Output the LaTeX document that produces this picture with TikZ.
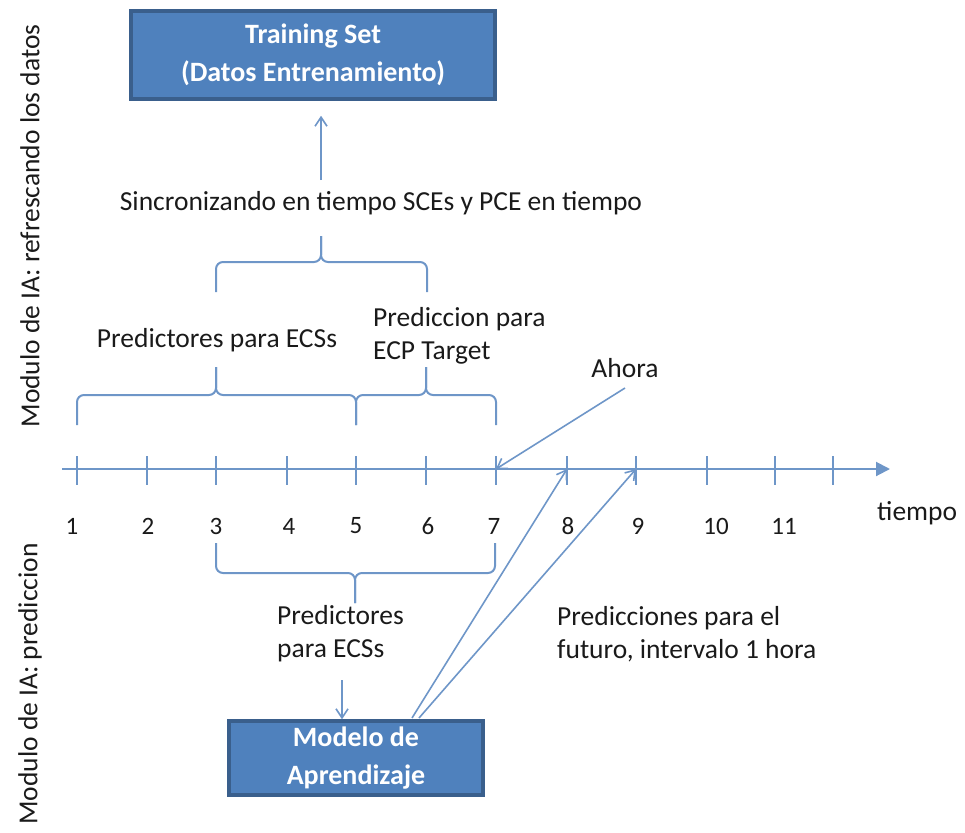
\documentclass[tikz,border=0pt]{standalone}
\usepackage{fontspec}
\setmainfont{Carlito}
\usetikzlibrary{arrows.meta}

\definecolor{lineblue}{HTML}{6E96C8}
\definecolor{boxfill}{HTML}{4F81BD}
\definecolor{boxedge}{HTML}{3A5F8C}
\definecolor{txt}{HTML}{1A1A1A}

\tikzset{
  conn/.style={draw=lineblue, line width=1.6pt},
  bracepath/.style={draw=lineblue, line width=2pt, rounded corners=7pt},
  openhead/.style={conn, -{Straight Barb[length=9pt,width=12pt]}},
  bluebox/.style={draw=boxedge, fill=boxfill, line width=3.5pt, text=white,
    font=\fontsize{28}{38}\selectfont\bfseries, align=center, inner sep=0pt},
  lbl/.style={text=txt, font=\fontsize{27.5}{33}\selectfont, align=left, inner sep=0pt},
  num/.style={text=txt, font=\fontsize{25}{30}\selectfont, inner sep=0pt},
  tickmark/.style={draw=lineblue, line width=2.2pt},
}

% curly brace drawn as two rounded halves meeting at a tip
\newcommand\curlybrace[6]{%
  \path[bracepath] (#1,#4) -- (#1,#5) -- (#3,#5) -- (#3,#6);
  \path[bracepath] (#2,#4) -- (#2,#5) -- (#3,#5) -- (#3,#6);
}

\begin{document}
\begin{tikzpicture}[x=1pt,y=-1pt]
\useasboundingbox (0,0) rectangle (965,832);

% boxes
\node[bluebox, minimum width=364pt, minimum height=88pt] (train) at (313,55)
  {Training Set\\(Datos Entrenamiento)};
\node[bluebox, minimum width=254pt, minimum height=74pt] (model) at (356,758)
  {Modelo de\\Aprendizaje};

% time axis
\coordinate (axstart) at (62,469);
\coordinate (axend) at (890,469);
\draw[conn, line width=2pt, -{Triangle[length=14pt,width=14pt]}] (axstart) -- (axend);

\foreach \i/\x in {1/77,2/147,3/216,4/287,5/356,6/426,7/496,8/567,9/636,10/707,11/775,12/833}{
  \coordinate (t\i) at (\x,469);
  \draw[tickmark] (\x,456) -- (\x,485);
}
\foreach \i/\x in {1/72,2/148,3/216,4/289,5/356,6/428,7/494,8/568,9/638,10/716,11/784}{
  \node[num] (n\i) at (\x,526) {\i};
}
\node[lbl, anchor=west] (tiempo) at (877,513) {tiempo};

% braces above the axis
\curlybrace{77}{356}{216}{425}{395}{367}
\curlybrace{356}{496}{426}{425}{395}{367}
\curlybrace{216}{427}{321}{292}{262}{236}
% brace below the axis
\curlybrace{216}{495}{355}{543}{573}{603}

% labels
\node[lbl] (sync) at (381,203) {Sincronizando en tiempo SCEs y PCE en tiempo};
\node[lbl] (predA) at (217,340) {Predictores para ECSs};
\node[lbl, anchor=west] (target) at (373,336) {Prediccion para\\ECP Target};
\node[lbl] (ahora) at (625,368) {Ahora};
\node[lbl, anchor=west] (predB) at (277,634) {Predictores\\para ECSs};
\node[lbl, anchor=west] (futuro) at (557,634) {Predicciones para el\\futuro, intervalo 1 hora};

% side labels
\node[lbl, rotate=90] (modA) at (30,226) {Modulo de IA: refrescando los datos};
\node[lbl, rotate=90] (modB) at (30,684) {Modulo de IA: prediccion};

% connectors
\coordinate (syncup) at (321,180);
\draw[openhead, shorten >=15pt] (syncup) -- (train.south -| syncup);
\coordinate (ahorafoot) at (625,388);
\draw[openhead] (ahorafoot) -- (t7);
\coordinate (predfoot) at (342,680);
\draw[openhead] (predfoot) -- (model.north -| predfoot);
\coordinate (mA) at (412,718);
\coordinate (mB) at (419,718);
\draw[openhead] (mA) -- (t8);
\draw[openhead] (mB) -- (t9);
\end{tikzpicture}
\end{document}
